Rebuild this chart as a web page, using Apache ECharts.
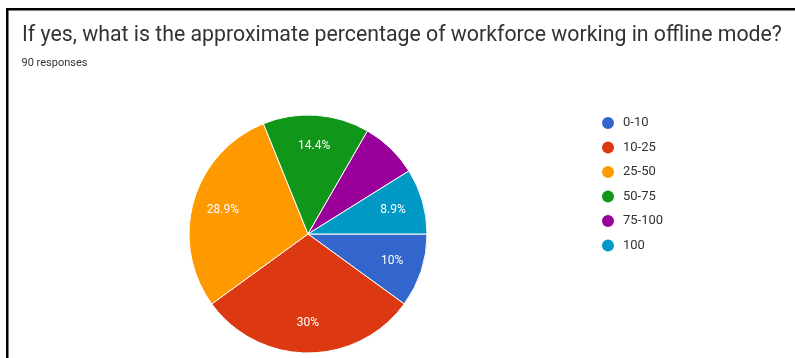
<!DOCTYPE html>
<html><head><meta charset="utf-8">
<script src="https://cdn.jsdelivr.net/npm/echarts@6/dist/echarts.min.js"></script>
<style>html,body{margin:0;padding:0;background:#fff}#c{width:795px;height:358px}</style>
</head><body><div id="c"></div>
<script>
const categories = ['0-10', '10-25', '25-50', '50-75', '75-100', '100'];
const counts = [9, 27, 26, 13, 7, 8];
const colors = ['#3366cc', '#dc3912', '#ff9900', '#109618', '#990099', '#0099c6'];
const hiddenLabels = ['75-100'];
const total = counts.reduce((a, b) => a + b, 0);

const chart = echarts.init(document.getElementById('c'));
const fmt = p => {
  const v = Math.round(p.value / total * 1000) / 10;
  return v + '%';
};
chart.setOption({
  animation: false,
  color: colors,
  title: [
    {text: 'If yes, what is the approximate percentage of workforce working in offline mode?', left: 22, top: 25, padding: 0,
     textStyle: {fontFamily: 'Roboto', fontSize: 21.3, fontWeight: 'normal', color: '#333'}},
    {text: '90 responses', left: 21.5, top: 58, padding: 0,
     textStyle: {fontFamily: 'Roboto', fontSize: 11, fontWeight: 'normal', color: '#333'}}
  ],
  legend: {
    orient: 'vertical', left: 600, top: 115, padding: 0, icon: 'circle', itemWidth: 14, itemHeight: 14, itemGap: 8.5,
    textStyle: {fontFamily: 'Roboto', fontSize: 13, lineHeight: 14, color: '#333', padding: [0, 0, 0, 3]},
    data: categories
  },
  graphic: [
    {type: 'rect', shape: {x: 6, y: 8, width: 2.5, height: 350}, style: {fill: '#000'}},
    {type: 'rect', shape: {x: 6, y: 8, width: 789, height: 2.5}, style: {fill: '#000'}}
  ],
  series: [
    {
      type: 'pie', center: [308, 234], radius: [0, 119], startAngle: 0, clockwise: true,
      label: {show: false}, labelLine: {show: false},
      itemStyle: {borderColor: '#fff', borderWidth: 1},
      emphasis: {disabled: true},
      data: categories.map((c, i) => ({name: c, value: counts[i]}))
    },
    {
      type: 'pie', center: [308, 234], radius: [52, 119], startAngle: 0, clockwise: true, silent: true,
      legendHoverLink: false,
      itemStyle: {color: 'rgba(0,0,0,0)', borderWidth: 0},
      label: {show: true, position: 'inside', formatter: fmt, color: '#fff',
              fontFamily: 'Roboto', fontSize: 12},
      labelLine: {show: false},
      emphasis: {disabled: true},
      data: categories.map((c, i) => ({name: c + ' ', value: counts[i],
        label: {show: hiddenLabels.indexOf(c) < 0}}))
    }
  ]
});
</script></body></html>
